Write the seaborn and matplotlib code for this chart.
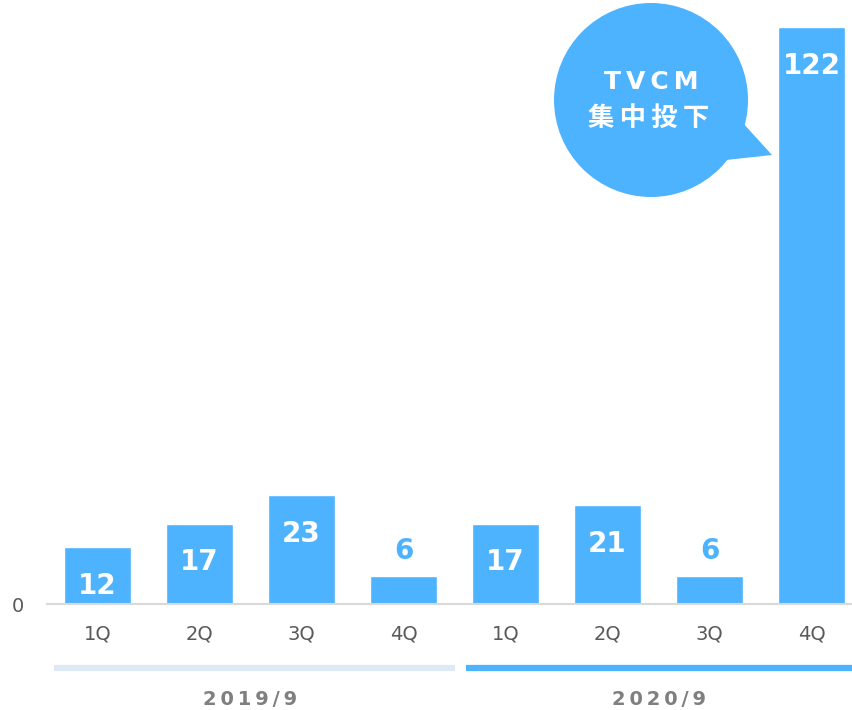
import numpy as np
import pandas as pd
import seaborn as sns
import matplotlib.pyplot as plt
from matplotlib.patches import Circle, Polygon
import matplotlib.transforms as mtransforms

years = ["2019/9", "2019/9", "2019/9", "2019/9", "2020/9", "2020/9", "2020/9", "2020/9"]
quarters = ["1Q", "2Q", "3Q", "4Q", "1Q", "2Q", "3Q", "4Q"]
values = [12, 17, 23, 6, 17, 21, 6, 122]
bubble_lines = ["TVCM", "集中投下"]

blue = "#4db3ff"
pale = "#dde9f5"
grey_txt = "#595959"
thin = "\u2009"

df = pd.DataFrame({"key": [y + q for y, q in zip(years, quarters)], "q": quarters, "v": values})

sns.set_style("white")
plt.rcParams["font.family"] = ["DejaVu Sans", "Noto Sans CJK JP"]

fig = plt.figure(figsize=(8.52, 7.10), dpi=100)
ax = fig.add_axes([46.5 / 852, 106 / 710, (852 - 46.5) / 852, 604 / 710])
sns.barplot(data=df, x="key", y="v", color=blue, width=0.66, saturation=1, ax=ax)

ax.set_xlabel("")
ax.set_ylabel("")
for s in ["top", "right", "left"]:
    ax.spines[s].set_visible(False)
ax.spines["bottom"].set_color("#d9d9d9")
ax.spines["bottom"].set_linewidth(1.5)
ax.set_xticks(range(len(quarters)))
ax.set_xticklabels(quarters, fontsize=14, color=grey_txt)
ax.set_xticks(np.arange(-0.5, len(quarters), 1), minor=True)
ax.tick_params(axis="x", which="major", length=0, pad=15)
ax.tick_params(axis="x", which="minor", length=7, width=1.5, color="#d9d9d9", direction="out")
ax.set_yticks([0])
ax.set_yticklabels(["0"], fontsize=14, color=grey_txt)
ax.tick_params(axis="y", length=0, pad=16)
ax.set_xlim(-0.5, 7.397)
ax.set_ylim(0, 127.7)

# value labels
for i, v in enumerate(values):
    if v < 10:
        ax.annotate(str(v), (i, v), xytext=(0, 18), textcoords="offset points",
                    ha="center", va="center", fontsize=20, fontweight="bold", color=blue)
    else:
        ax.annotate(str(v), (i, v), xytext=(0, -28), textcoords="offset points",
                    ha="center", va="center", fontsize=20, fontweight="bold", color="white")

# year group lines and labels
trans = mtransforms.blended_transform_factory(ax.transData, ax.transAxes)
groups = list(dict.fromkeys(years))
for gi, g in enumerate(groups):
    idx = [i for i, y in enumerate(years) if y == g]
    if gi == 0:
        x0, x1, col = idx[0] - 0.43, idx[-1] + 0.5, pale
    else:
        x0, x1, col = idx[0] - 0.39, idx[-1] + 0.7, blue
    ax.plot([x0, x1], [-0.1055, -0.1055], transform=trans, clip_on=False,
            color=col, lw=4.5, solid_capstyle="butt")
    ax.text(np.mean(idx), -0.158, thin.join(g), transform=trans, ha="center", va="center",
            fontsize=14, fontweight="bold", color="#7f7f7f")

# speech bubble next to the last bar
ov = fig.add_axes([0, 0, 1, 1], facecolor="none")
ov.set_xlim(0, 852)
ov.set_ylim(710, 0)
ov.axis("off")
ov.add_patch(Circle((651, 100), 97, color=blue, lw=0))
ov.add_patch(Polygon([(742, 122), (772, 155), (726, 160)], closed=True, color=blue, lw=0))
ov.text(651, 82, thin.join(bubble_lines[0]), ha="center", va="center", fontsize=18,
        fontweight="bold", color="white")
ov.text(649, 119, thin.join(bubble_lines[1]), ha="center", va="center", fontsize=19,
        fontweight="bold", color="white")

fig.savefig("out.png", dpi=100)
